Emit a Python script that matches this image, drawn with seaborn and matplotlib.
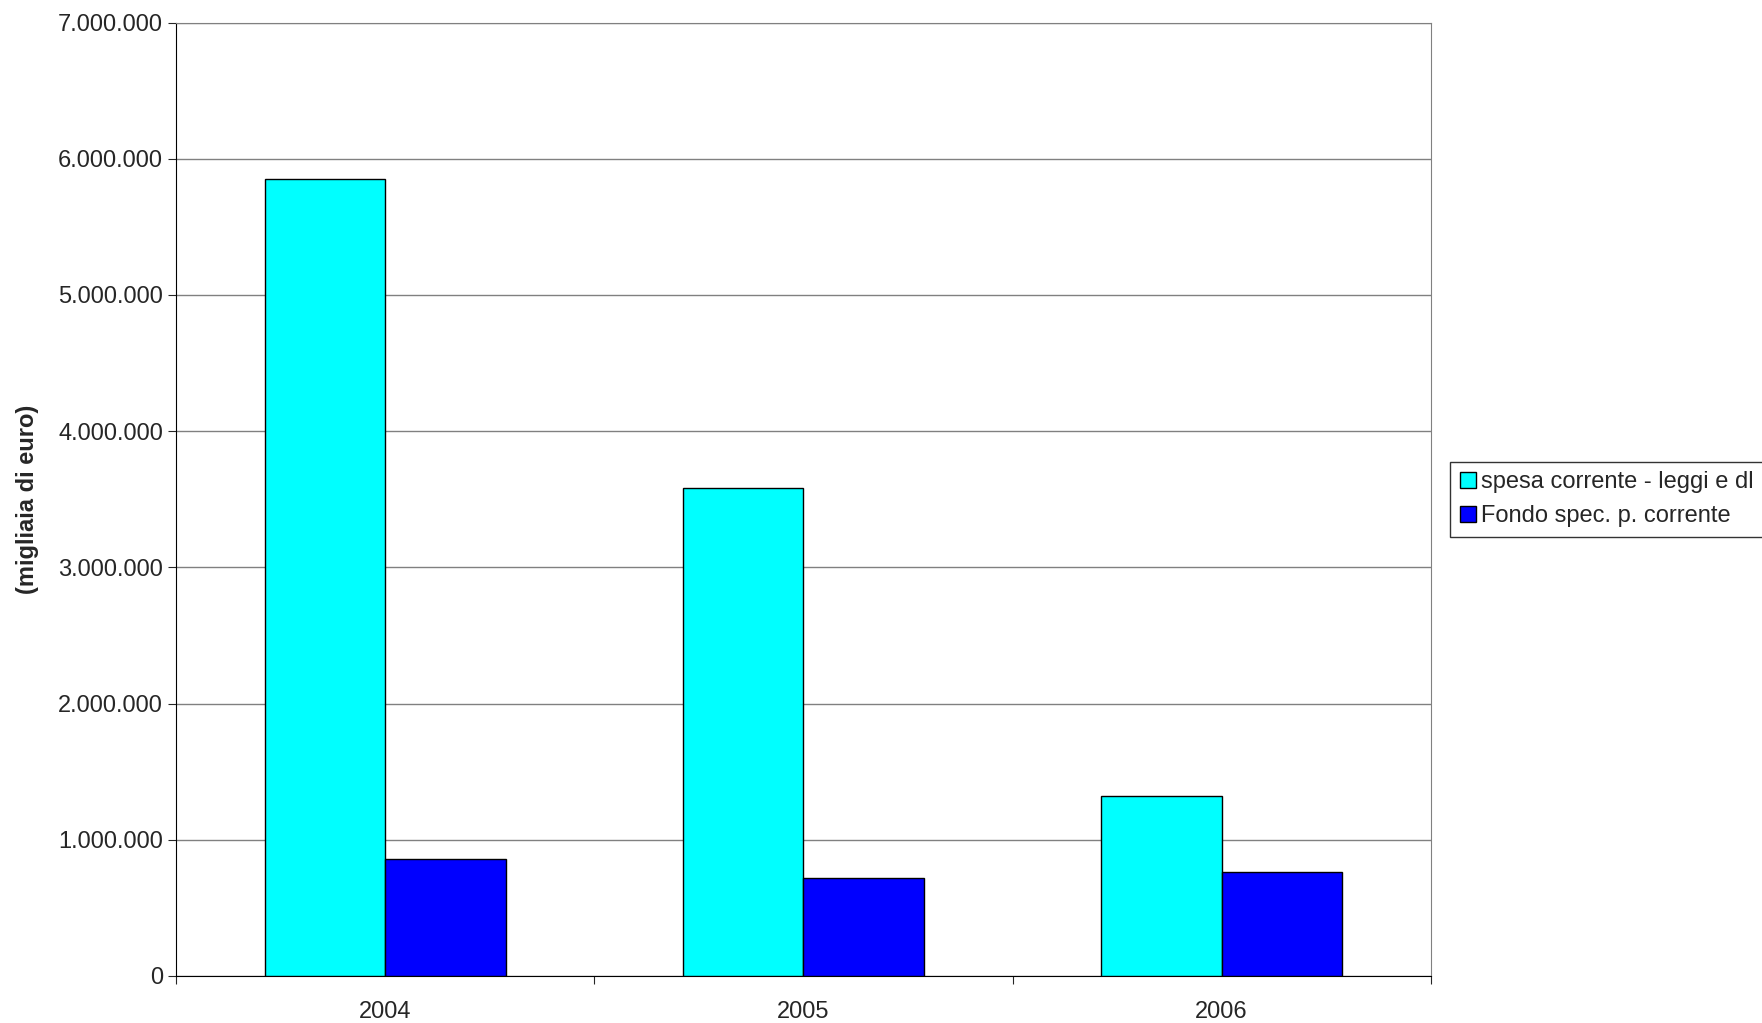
import matplotlib
matplotlib.use("Agg")
import matplotlib.pyplot as plt
import pandas as pd
import seaborn as sns
from matplotlib.ticker import FuncFormatter

years = ["2004", "2005", "2006"]
spesa = [5850000, 3580000, 1320000]
fondo = [860000, 720000, 760000]
series = ["spesa corrente - leggi e dl", "Fondo spec. p. corrente"]

df = pd.DataFrame({
    "anno": years * 2,
    "valore": spesa + fondo,
    "serie": [series[0]] * 3 + [series[1]] * 3,
})

sns.set_style("white")
plt.rcParams["font.family"] = ["Liberation Sans", "DejaVu Sans"]

fig = plt.figure(figsize=(17.62, 10.23), dpi=100)
ax = fig.add_axes([0.100, 0.046, 0.712, 0.932])
sns.barplot(data=df, x="anno", y="valore", hue="serie",
            palette=["#00FFFF", "#0000FF"], width=0.575,
            edgecolor="black", linewidth=1, saturation=1, ax=ax, zorder=3)

ax.set_ylim(0, 7000000)
ax.set_yticks(range(0, 7000001, 1000000))
ax.yaxis.set_major_formatter(FuncFormatter(lambda v, p: f"{int(v):,}".replace(",", ".")))
ax.yaxis.grid(True, color="#808080", linewidth=1, zorder=0)
ax.set_xlabel("")
ax.set_ylabel("(migliaia di euro)", fontsize=17, fontweight="bold", labelpad=14)
ax.tick_params(labelsize=17, length=6, direction="out", bottom=True, left=True)
ax.set_xticks([-0.5, 0.5, 1.5, 2.5], minor=False)
ax.set_xticks([0, 1, 2], minor=True)
ax.set_xticklabels([])
ax.set_xticklabels(years, minor=True)
ax.tick_params(axis="x", which="minor", length=0, labelsize=17, pad=18)
ax.set_xlim(-0.5, 2.5)
for s in ax.spines.values():
    s.set_color("#808080")
ax.spines["left"].set_color("black")
ax.spines["bottom"].set_color("black")

ax.legend(loc="center left", bbox_to_anchor=(1.01, 0.5), fontsize=17,
          frameon=True, fancybox=False, edgecolor="black",
          handlelength=0.7, handletextpad=0.2, borderpad=0.4, borderaxespad=0.3)

fig.savefig("out.png", dpi=100)
